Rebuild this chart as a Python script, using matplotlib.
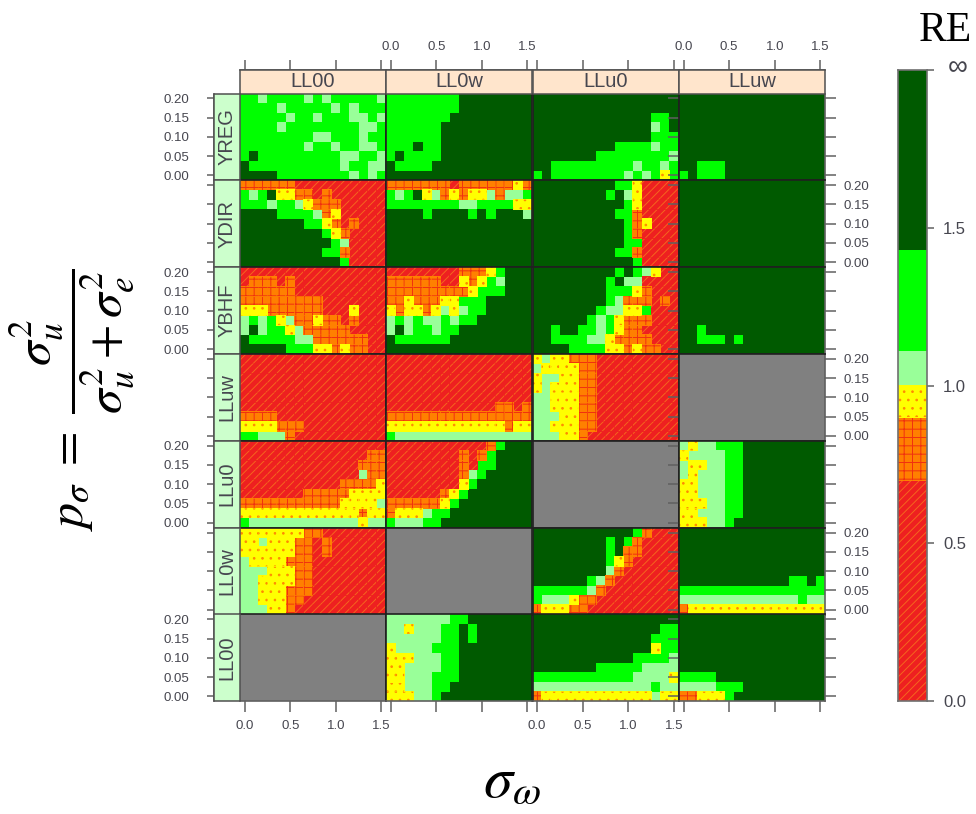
import numpy as np
import matplotlib
matplotlib.use("Agg")
import matplotlib.pyplot as plt
from matplotlib.colors import BoundaryNorm, ListedColormap
from matplotlib.patches import Rectangle
from matplotlib.transforms import ScaledTranslation

plt.rcParams["font.family"] = ["Liberation Sans", "DejaVu Sans"]
plt.rcParams["mathtext.fontset"] = "stix"
plt.rcParams["hatch.linewidth"] = 0.7

W, H = 976, 814
STRIP_H = 23.5
STRIP_W = 26

# RE classes: R <0.7, O 0.7-0.9, Y 0.9-1, L 1-1.11, G 1.11-1.43, D >1.43
RE_BOUNDS = [0.0, 0.7, 0.9, 1.0, 1.11, 1.43, 2.0]
RE_OF_CODE = {"R": 0.35, "O": 0.8, "Y": 0.95, "L": 1.05, "G": 1.25, "D": 1.8}
COLORS = ["#EE2020", "#FF8000", "#FFFF00", "#99FF99", "#00FF00", "#005A00"]
HATCHES = ["////", "++", "..", None, None, None]
HATCH_COLORS = ["#F5661E", "#F03010", "#FF8A00", None, None, None]

COL_NAMES = ["LL00", "LL0w", "LLu0", "LLuw"]
ROW_NAMES = ["YREG", "YDIR", "YBHF", "LLuw", "LLu0", "LL0w", "LL00"]
SIGMA_W = np.arange(0, 16) / 10
P_SIGMA = np.arange(0, 9) * 0.025

# each panel: rows from p=0.20 down to p=0.00, columns sigma_w 0.0 to 1.5
YREG_LL00 = [
    "GGLGGGGLGLGGGGGL",
    "GGGGLGGGGGLGLGGG",
    "GGGGGLGGLGGGLLGL",
    "GGGGLGGGGGGGGLLG",
    "GGGGGGGGLLGGGLGG",
    "GGGGGGGLGGLGGLLG",
    "GDGGGGGGGGGLLGGL",
    "DGGGGGGGGGGLGGLL",
    "DDDDGGGGGGGGLGLG",
]
YREG_LL0W = [
    "GGGGGGGGDDDDDDDD",
    "GGGGGGGGDDDDDDDD",
    "GGGGGGGDDDDDDDDD",
    "GGGGGGDDDDDDDDDD",
    "GGGGGGDDDDDDDDDD",
    "GGGDGGDDDDDDDDDD",
    "GDGGGGDDDDDDDDDD",
    "DGGGGDDDDDDDDDDD",
    "DDDDDDDDDDDDDDDD",
]
YREG_LLU0 = [
    "DDDDDDDDDDDDDDDD",
    "DDDDDDDDDDDDDDDD",
    "DDDDDDDDDDDDDGGD",
    "DDDDDDDDDDDDDLGD",
    "DDDDDDDDDDDDDGGG",
    "DDDDDDDDDGGGGLGG",
    "DDDDDDDGGGGGGGGL",
    "DDGGGGGGGGGLGGLG",
    "GDGGGGGGGGLGLGYG",
]
YREG_LLUW = [
    "DDDDDDDDDDDDDDDD",
    "DDDDDDDDDDDDDDDD",
    "DDDDDDDDDDDDDDDD",
    "DDDDDDDDDDDDDDDD",
    "DDDDDDDDDDDDDDDD",
    "DDDDDDDDDDDDDDDD",
    "DDDDDDDDDDDDDDDD",
    "DDGGGDDDDDDDDDDD",
    "GDGGGDDDDDDDDDDD",
]
YDIR_LL00 = [
    "OOOOOORRRRRRRRRR",
    "GLGDYYOORORRRRRR",
    "GGGLGGLYOOORRRRR",
    "DDDDGGGGLOYRRRRR",
    "DDDDDDDGGYORORRR",
    "DDDDDDDDDGYORRRR",
    "DDDDDDDDDDGLRRRR",
    "DDDDDDDDDGGORRRR",
    "DDDDDDDDDDDGRRRR",
]
YDIR_LL0W = [
    "OOOOOOOROOOOOOYO",
    "GLGDYLOYOYYLOLLG",
    "GGGGGGGGLLGGGGYY",
    "DDDDGDDDDGDGDDDL",
    "DDDDDDDDDDDDDDDD",
    "DDDDDDDDDDDDDDDD",
    "DDDDDDDDDDDDDDDD",
    "DDDDDDDDDDDDDDDD",
    "DDDDDDDDDDDDDDDD",
]
YDIR_LLU0 = [
    "DDDDDDDDDGGYRRRR",
    "DDDDDDDDGDLYRRRR",
    "DDDDDDDDDDGYRRRR",
    "DDDDDDDDDGGORRRR",
    "DDDDDDDDDDGOYRRR",
    "DDDDDDDDDDGORRRR",
    "DDDDDDDDDDGGRRRR",
    "DDDDDDDDDGGORRRR",
    "DDDDDDDDDDDGRRRR",
]
YDIR_LLUW = ["DDDDDDDDDDDDDDDD"] * 9
YBHF_LL00 = [
    "RRRRRRRRRRRRRRRR",
    "ROOORORRRRRRRRRR",
    "OOOOOORRRRRRRRRR",
    "OOOOOOOOORRRRRRR",
    "YYYOOOOOORRRYRRR",
    "LGLGYLOOYOORORRR",
    "LDLGGYLOOOOORRRR",
    "DGGGGGLLOOOOOORR",
    "DDDDDGGGYYOYOORR",
]
YBHF_LL0W = [
    "RRRRRRRROOOYGDDD",
    "OOOOOORRYOYGLDDD",
    "OOOOOOOOOYGGGDDD",
    "OOYOOOYYGGGDDDDD",
    "YOYYOYLYLGGDDDDD",
    "LGLGLLGLGGDDDDDD",
    "LDLGGLGGDDDDDDDD",
    "DGGGGGGDDDDDDDDD",
    "DDDDDDDDDDDDDDDD",
]
YBHF_LLU0 = [
    "DDDDDDDDDGDGLYRR",
    "DDDDDDDDGDLLRRRR",
    "DDDDDDDDGGGYORRR",
    "DDDDDDDDGLOOOROR",
    "DDDDDDDGLLYYGRRR",
    "DDDDDDGLGYOOORRR",
    "DDGDDGGLGYOORRRR",
    "DDGGGGLLYOOOORRR",
    "DDDDGGGGYYOYOORR",
]
YBHF_LLUW = [
    "DDDDDDDDDDDDDDDD",
    "DDDDDDDDDDDDDDDD",
    "DDDDDDDDDDDDDDDD",
    "DDDDDDDDDDDDDDDD",
    "DDDDDDDDDDDDDDDD",
    "DDDDDDDDDDDDDDDD",
    "DDGDDDDDDDDDDDDD",
    "DDGGGDGDDDDDDDDD",
    "DDDDDDDDDDDDDDDD",
]
LLUW_LL00 = [
    "RRRRRRRRRRRRRRRR",
    "RRRRRRRRRRRRRRRR",
    "RRRRRRRRRRRRRRRR",
    "RRRRRRRRRRRRRRRR",
    "RRRRRRRRRRRRRRRR",
    "RRRRRRRRRRRRRRRR",
    "OOOORRRRRRRRRRRR",
    "YYYYOOORRRRRRRRR",
    "GGLLLORRRRRRRRRR",
]
LLUW_LL0W = [
    "RRRRRRRRRRRRRRRR",
    "RRRRRRRRRRRRRRRR",
    "RRRRRRRRRRRRRRRR",
    "RRRRRRRRRRRRRRRR",
    "RRRRRRRRRRRRRRRR",
    "RRRRRRRRRRRROORO",
    "OOOOOOOOOOOOOOOO",
    "YYYYYYYYYYYYYOYY",
    "GLLLLLLLLLLLLLLL",
]
LLUW_LLU0 = [
    "YLYYOOORRRRRRRRR",
    "LYYYYOORRRRRRRRR",
    "YLLYYOORRRRRRRRR",
    "YLYYYOORRRRRRRRR",
    "LLYYYOORRRRRRRRR",
    "LLYYYOORRRRRRRRR",
    "LLLYYOORRRRRRRRR",
    "LLYYYOORRRRRRRRR",
    "LLLYYORRRRRRRRRR",
]
LLU0_LL00 = [
    "RRRRRRRRRRRRRRRR",
    "RRRRRRRRRRRRRROO",
    "RRRRRRRRRRRRROOO",
    "RRRRRRRRRRRRRLOO",
    "RRRRRRRRRRROOOOY",
    "RRRRRRROOOOOYYYY",
    "OOOOOOOOOOOYYYYL",
    "YYYYYYYYYYYYYOYY",
    "GLLLLLLLLLLLLYLL",
]
LLU0_LL0W = [
    "RRRRRRRRRRROGDDD",
    "RRRRRRRROROGDDDD",
    "RRRRRRRRORGGDDDD",
    "RRRRRRRROLGDDDDD",
    "RRRRRRRRYGDDDDDD",
    "RRRRRROYGDDDDDDD",
    "OOOOOOYGDDDDDDDD",
    "OYYYLGGDDDDDDDDD",
    "GLLLGGDDDDDDDDDD",
]
LLU0_LLUW = [
    "LYLLGGGDDDDDDDDD",
    "YLLLLGGDDDDDDDDD",
    "LYYLLGGDDDDDDDDD",
    "LYLLLGGDDDDDDDDD",
    "YYLLLGGDDDDDDDDD",
    "YYLLLGGDDDDDDDDD",
    "YYYLLGGDDDDDDDDD",
    "YYLLLGGDDDDDDDDD",
    "YYYLLGDDDDDDDDDD",
]
LL0W_LL00 = [
    "YYYYYYYOORRRRRRR",
    "YYLYYYOORORRRRRR",
    "YYYYYYOORORRRRRR",
    "LYYYYOOORRRRRRRR",
    "LLLYYYOORRRRRRRR",
    "LLYYYYOORRRRRRRR",
    "LLYYYOOORRRRRRRR",
    "LLYYYOORRRRRRRRR",
    "LLLYYORRRRRRRRRR",
]
LL0W_LLU0 = [
    "DDDDDDDDDDDGORRR",
    "DDDDDDDDGDGORRRR",
    "DDDDDDDDGDOORRRR",
    "DDDDDDDDGYORRRRR",
    "DDDDDDDDLORRRRRR",
    "DDDDDDGLORRRRRRR",
    "GGGGGGLORRRRRRRR",
    "GLLLYOORRRRRRRRR",
    "OYYYOORRRRRRRRRR",
]
LL0W_LLUW = [
    "DDDDDDDDDDDDDDDD",
    "DDDDDDDDDDDDDDDD",
    "DDDDDDDDDDDDDDDD",
    "DDDDDDDDDDDDDDDD",
    "DDDDDDDDDDDDDDDD",
    "DDDDDDDDDDDDGGDG",
    "GGGGGGGGGGGGGGGG",
    "LLLLLLLLLLLLLGLL",
    "OYYYYYYYYYYYYYYY",
]
LL00_LL0W = [
    "LLLLLLLGGDDDDDDD",
    "LLYLLLGGDGDDDDDD",
    "LLLLLLGGDGDDDDDD",
    "YLLLLGGGDDDDDDDD",
    "YYYLLLGGDDDDDDDD",
    "YYLLLLGGDDDDDDDD",
    "YYLLLGGGDDDDDDDD",
    "YYLLLGGDDDDDDDDD",
    "YYYLLGDDDDDDDDDD",
]
LL00_LLU0 = [
    "DDDDDDDDDDDDDDDD",
    "DDDDDDDDDDDDDDGG",
    "DDDDDDDDDDDDDGGG",
    "DDDDDDDDDDDDDYGG",
    "DDDDDDDDDDDGGGGL",
    "DDDDDDDGGGGGLLLL",
    "GGGGGGGGGGGLLLLY",
    "LLLLLLLLLLLLLGLL",
    "OYYYYYYYYYYYYLYY",
]
LL00_LLUW = [
    "DDDDDDDDDDDDDDDD",
    "DDDDDDDDDDDDDDDD",
    "DDDDDDDDDDDDDDDD",
    "DDDDDDDDDDDDDDDD",
    "DDDDDDDDDDDDDDDD",
    "DDDDDDDDDDDDDDDD",
    "GGGGDDDDDDDDDDDD",
    "LLLLGGGDDDDDDDDD",
    "OOYYYGDDDDDDDDDD",
]

PANELS = [
    [YREG_LL00, YREG_LL0W, YREG_LLU0, YREG_LLUW],
    [YDIR_LL00, YDIR_LL0W, YDIR_LLU0, YDIR_LLUW],
    [YBHF_LL00, YBHF_LL0W, YBHF_LLU0, YBHF_LLUW],
    [LLUW_LL00, LLUW_LL0W, LLUW_LLU0, None],
    [LLU0_LL00, LLU0_LL0W, None, LLU0_LLUW],
    [LL0W_LL00, None, LL0W_LLU0, LL0W_LLUW],
    [None, LL00_LL0W, LL00_LLU0, LL00_LLUW],
]

CMAP = ListedColormap(COLORS)
NORM = BoundaryNorm(RE_BOUNDS, CMAP.N)
TEXT_COLOR = "#46464F"
FRAME_COLOR = "#202020"
TICK_COLOR = "#606060"


def px_axes(fig, left, top, width, height):
    return fig.add_axes([left / W, 1 - (top + height) / H, width / W, height / H])


def pt(px):
    return px * 72 / 100


def draw_cells(ax, x_edges, y_edges, values):
    ax.pcolormesh(x_edges, y_edges, values, cmap=CMAP, norm=NORM, antialiased=False)
    for i, hatch in enumerate(HATCHES):
        mask = (values >= RE_BOUNDS[i]) & (values < RE_BOUNDS[i + 1])
        if hatch is None or not mask.any():
            continue
        ax.pcolor(
            x_edges,
            y_edges,
            np.ma.masked_where(~mask, values),
            cmap=CMAP,
            norm=NORM,
            hatch=hatch,
            edgecolor=HATCH_COLORS[i],
            linewidth=0,
            antialiased=False,
        )


def draw_panel(fig, row, col, left, top, width, height):
    ax = px_axes(fig, left, top, width, height)
    rows = PANELS[row][col]
    x_edges = np.append(SIGMA_W - 0.05, SIGMA_W[-1] + 0.05)
    y_edges = np.append(P_SIGMA - 0.0125, P_SIGMA[-1] + 0.0125)
    if rows is None:
        ax.set_facecolor("#808080")
    else:
        values = np.array([[RE_OF_CODE[c] for c in r] for r in rows[::-1]])
        draw_cells(ax, x_edges, y_edges, values)
    ax.set_xlim(x_edges[0], x_edges[-1])
    ax.set_ylim(y_edges[0], y_edges[-1])

    for spine in ax.spines.values():
        spine.set_color(FRAME_COLOR)
        spine.set_linewidth(1.2)

    ax.set_xticks([0.0, 0.5, 1.0, 1.5])
    ax.set_xticklabels(["0.0", "0.5", "1.0", "1.5"])
    ax.set_yticks([0.0, 0.05, 0.10, 0.15, 0.20])
    ax.set_yticklabels(["0.00", "0.05", "0.10", "0.15", "0.20"])
    ax.tick_params(
        axis="both", length=0, labelleft=False, labelbottom=False,
        labelsize=9.5, labelcolor=TEXT_COLOR, color=TICK_COLOR, width=1.1,
    )

    # lattice style: ticks only round the outside, labels alternating
    if row == 0:
        ax.spines["top"].set_position(("outward", pt(STRIP_H)))
        ax.spines["top"].set_color(TICK_COLOR)
        ax.tick_params(axis="x", top=True, bottom=False, length=pt(10), pad=pt(7),
                       labeltop=col % 2 == 1)
        ax.add_patch(Rectangle((0, 1), 1, STRIP_H / height, transform=ax.transAxes,
                               facecolor="#FFE5CC", edgecolor="#505050",
                               linewidth=1.1, clip_on=False, zorder=5))
        ax.text(0.5, 1 + STRIP_H / height / 2, COL_NAMES[col], transform=ax.transAxes,
                ha="center", va="center", fontsize=14.5, color=TEXT_COLOR, zorder=6)
    if row == 6:
        ax.spines["bottom"].set_color(TICK_COLOR)
        ax.tick_params(axis="x", bottom=True, length=pt(11), pad=pt(8),
                       labelbottom=col % 2 == 0)
    if col == 0:
        ax.spines["left"].set_position(("outward", pt(STRIP_W)))
        ax.spines["left"].set_color(TICK_COLOR)
        ax.tick_params(axis="y", left=True, length=pt(7), pad=pt(18),
                       labelleft=row % 2 == 0)
        ax.add_patch(Rectangle((-STRIP_W / width, 0), STRIP_W / width, 1,
                               transform=ax.transAxes, facecolor="#CCFFCC",
                               edgecolor="#505050", linewidth=1.1,
                               clip_on=False, zorder=5))
        ax.text(-STRIP_W / width / 2, 0.5, ROW_NAMES[row], transform=ax.transAxes,
                rotation=90, ha="center", va="center", fontsize=14.5,
                color=TEXT_COLOR, zorder=6)
    if col == 3:
        ax.spines["right"].set_color(TICK_COLOR)
        ax.tick_params(axis="y", right=True, length=pt(11), pad=pt(8),
                       labelright=row % 2 == 1)
    return ax


def draw_colorbar(fig):
    ax = px_axes(fig, 898, 70, 29, 631)
    values = np.array(list(RE_OF_CODE.values()))[:, None]
    draw_cells(ax, [0, 1], RE_BOUNDS, values)
    ax.set_xlim(0, 1)
    ax.set_ylim(RE_BOUNDS[0], RE_BOUNDS[-1])
    ax.set_xticks([])
    ax.yaxis.tick_right()
    ax.set_yticks([0.0, 0.5, 1.0, 1.5, 2.0])
    ax.set_yticklabels(["0.0", "0.5", "1.0", "1.5", "\u221e"])
    ax.tick_params(axis="y", length=pt(7), pad=pt(9), labelsize=12,
                   labelcolor=TEXT_COLOR, color=TICK_COLOR, width=1.1)
    inf_label = ax.get_yticklabels()[-1]
    inf_label.set_fontsize(20)
    inf_label.set_transform(inf_label.get_transform()
                            + ScaledTranslation(5 / 100, 5 / 100, fig.dpi_scale_trans))
    for spine in ax.spines.values():
        spine.set_color("#707070")
        spine.set_linewidth(1.2)


def main():
    fig = plt.figure(figsize=(W / 100, H / 100), dpi=100, facecolor="white")
    lefts = [240, 386, 532.5, 679]
    tops = [93.5, 180.3, 267.2, 354, 440.8, 527.7, 614.5]
    for row, top in enumerate(tops):
        for col, left in enumerate(lefts):
            draw_panel(fig, row, col, left, top, 146, 86.8)
    draw_colorbar(fig)

    fig.text(945 / W, 1 - 41 / H, "RE", family="Liberation Serif", fontsize=30,
             ha="center", va="baseline", color="black")
    fig.text(72 / W, 1 - 400 / H,
             r"$p_{\sigma}\;=\;\dfrac{\sigma_u^2}{\sigma_u^2+\sigma_e^2}$",
             rotation=90, fontsize=36, ha="center", va="center", color="black")
    fig.text(512 / W, 1 - 782 / H, r"$\sigma_{\omega}$", fontsize=42,
             ha="center", va="center", color="black")
    fig.savefig("out.png", dpi=100)


if __name__ == "__main__":
    main()
